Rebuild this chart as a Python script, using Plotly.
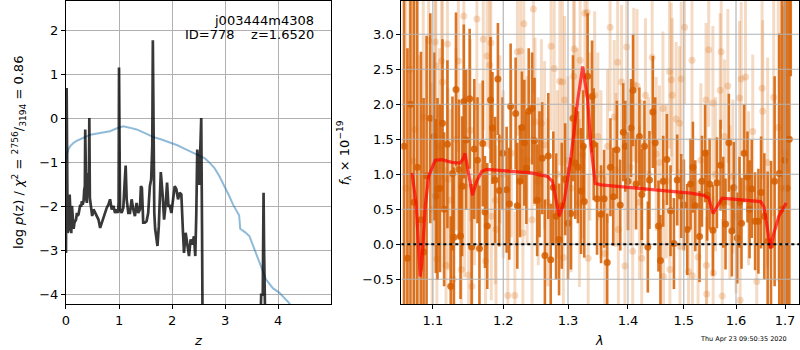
import plotly.graph_objects as go

# ---------------- Left panel: p(z) ----------------
pz_z = [0.000, 0.0125, 0.031, 0.05, 0.069, 0.085, 0.1, 0.1125, 0.128, 0.144, 0.16, 0.175, 0.19,
        0.206, 0.22, 0.2375, 0.255, 0.269, 0.285, 0.3, 0.315, 0.331, 0.345, 0.356, 0.3625, 0.37, 0.383,
        0.394, 0.4125, 0.431, 0.44, 0.45, 0.469, 0.494, 0.519, 0.55, 0.581, 0.6125, 0.644, 0.675,
        0.706, 0.7375, 0.769, 0.8, 0.831, 0.8625, 0.894, 0.925, 0.956, 0.981, 0.992, 1.0, 1.01,
        1.019, 1.05, 1.081, 1.106, 1.125, 1.144, 1.175, 1.206, 1.2375, 1.269, 1.3, 1.331,
        1.3625, 1.394, 1.4125, 1.431, 1.456, 1.4875, 1.519, 1.55, 1.581, 1.606, 1.627, 1.6375,
        1.648, 1.665, 1.681, 1.706, 1.725, 1.75, 1.7875, 1.819, 1.85, 1.881, 1.906, 1.931, 1.956,
        1.9875, 2.019, 2.05, 2.081, 2.1125, 2.144, 2.175, 2.206, 2.225, 2.256, 2.2875, 2.319,
        2.35, 2.381, 2.4125, 2.4375, 2.456, 2.475, 2.5125, 2.54, 2.55, 2.565, 2.59, 3.60, 3.66,
        3.68, 3.71, 3.725, 3.735, 3.76, 3.80]
pz_logp = [-3.05, 0.70, -2.59, -2.52, -1.72, -2.44, -2.60, -1.98, -2.40, -2.50, -2.36, -2.30, -2.29,
           -2.14, -2.20, -2.17, -2.05, -1.95, -2.00, -1.87, -1.95, -1.87, -1.60, -1.53, -0.24, -1.60, -1.83,
           -1.91, -1.23, -1.60, 0.02, -1.80, -2.06, -2.21, -2.06, -2.14, -2.21, -2.29, -2.48, -2.36,
           -2.21, -2.10, -2.02, -1.95, -1.83, -2.06, -1.98, -2.14, -2.06, -2.14, -1.90, 1.17, -1.90,
           -2.06, -2.14, -2.02, -1.45, -1.06, -1.83, -2.14, -2.14, -1.83, -2.06, -2.21, -1.91,
           -2.14, -2.06, -1.53, -1.57, -2.36, -2.36, -2.33, -2.14, -1.53, -1.38, -0.60, 1.79,
           -0.90, -2.14, -2.50, -2.74, -2.89, -2.44, -1.21, -1.68, -2.29, -1.91, -1.45, -1.98, -1.98,
           -2.14, -1.83, -1.53, -1.60, -1.83, -1.68, -1.72, -2.59, -3.05, -2.59, -2.89, -3.12,
           -2.74, -2.86, -2.67, -3.12, -2.21, -0.70, -1.50, -0.60, 0.02, -2.50, -8.0, -8.0, -4.5,
           -4.0, -4.0, -1.68, -3.0, -8.0, -8.0]

prior_z = [0.0, 0.02, 0.05, 0.08, 0.14, 0.2, 0.33, 0.46, 0.64, 0.83, 0.95, 1.08, 1.2, 1.33, 1.5,
           1.64, 1.8, 1.96, 2.1, 2.27, 2.4, 2.52, 2.62, 2.71, 2.8, 2.89, 3.0, 3.08, 3.15, 3.21,
           3.265, 3.285, 3.38, 3.46, 3.55, 3.64, 3.77, 3.9, 4.02, 4.2, 4.3]
prior_logp = [-1.0, -0.80, -0.68, -0.62, -0.55, -0.50, -0.43, -0.36, -0.32, -0.28, -0.22, -0.17,
              -0.20, -0.24, -0.33, -0.41, -0.47, -0.53, -0.60, -0.70, -0.77, -0.83, -0.90, -1.0,
              -1.12, -1.30, -1.55, -1.76, -1.95, -2.10, -2.20, -2.50, -2.58, -2.67, -2.95, -3.27,
              -3.65, -3.85, -3.95, -4.18, -4.35]

left_xticks = [0, 1, 2, 3, 4]
left_yticks = [-4, -3, -2, -1, 0, 1, 2]

# ---------------- Right panel: spectrum ----------------
dark_wave = [1.0615, 1.0660, 1.0700, 1.0745, 1.0790, 1.0839, 1.0875, 1.0915, 1.0965, 1.1018, 1.1040,
             1.1063, 1.1098, 1.1132, 1.1154, 1.1200, 1.1246, 1.1270, 1.1290, 1.1319, 1.1360, 1.1383,
             1.1405, 1.1429, 1.1462, 1.1512, 1.1540, 1.1578, 1.1624, 1.1652, 1.1700, 1.1732, 1.1765,
             1.1813, 1.1841, 1.1878, 1.1921, 1.1941, 1.1990, 1.2050, 1.2090, 1.2110, 1.2185, 1.2210,
             1.2250, 1.2280, 1.2317, 1.2348, 1.2384, 1.2436, 1.2473, 1.2514, 1.2550, 1.2592, 1.2634,
             1.2687, 1.2725, 1.2766, 1.2810, 1.2857, 1.2900, 1.2954, 1.3000, 1.3046, 1.3080, 1.3116,
             1.3160, 1.3210, 1.3248, 1.3264, 1.3319, 1.3392, 1.3419, 1.3475, 1.3542, 1.3594, 1.3645,
             1.3700, 1.3747, 1.3810, 1.3867, 1.3919, 1.3954, 1.4000, 1.4053, 1.4088, 1.4141, 1.4199,
             1.4242, 1.4288, 1.4348, 1.4377, 1.4437, 1.4479, 1.4538, 1.4574, 1.4623, 1.4690, 1.4756,
             1.4818, 1.4878, 1.4952, 1.5002, 1.5064, 1.5126, 1.5170, 1.5214, 1.5295, 1.5340, 1.5400,
             1.5440, 1.5486, 1.5549, 1.5626, 1.5697, 1.5750, 1.5794, 1.5859, 1.5918, 1.5957, 1.6024,
             1.6070, 1.6109, 1.6162, 1.6228, 1.6270, 1.6314, 1.6382, 1.6449, 1.6503, 1.6570, 1.6638,
             1.6707, 1.6782, 1.6879, 1.6930, 1.6990, 1.7040, 1.7090, 1.7120]
dark_flux = [1.40, -0.20, 2.00, 0.60, 1.10, 0.35, -0.11, 0.98, 1.80, 1.54, 0.69,
             0.79, 0.80, 1.73, 0.50, 1.43, -0.60, 1.01, 0.10, 2.21, 1.07, 0.12,
             0.83, 2.04, 1.49, 2.08, -0.04, 1.36, 1.20, -0.06, 1.44, 0.46, 0.26,
             2.06, 1.66, 0.92, 2.36, 0.77, 1.30, 0.78, 0.58, 1.97, 1.87, 0.55,
             0.90, 1.67, 1.45, 1.09, 1.90, 1.94, 1.48, 0.63, 1.00, 1.23, -0.16,
             1.26, -0.22, 0.81, 0.40, 0.07, 0.55, 0.93, 0.30, 0.44, 1.80, 1.16,
             1.10, 0.76, 1.40, 0.61, 2.40, 2.11, 1.43, 0.65, 0.43, 0.65, -0.26,
             1.10, 0.68, 1.35, 0.56, 1.60, 1.40, 0.90, 1.66, 2.20, 0.86, 1.54,
             0.71, 1.40, -0.04, 0.92, 1.89, 1.45, 0.26, -0.23, 0.90, 1.21, 0.48,
             0.01, 0.92, 0.69, 0.56, 0.21, 0.86, 1.10, 0.55, 0.11, 0.90, 1.30,
             0.70, 0.86, 0.20, 0.88, 1.13, 0.60, 0.29, 1.45, 0.19, 0.81, 0.09,
             0.60, 0.30, 1.30, 0.96, 0.50, 0.79, 0.33, 0.33, 0.74, 0.40, 0.04,
             -0.01, 0.90, 1.01, 0.50, 1.20, 0.80, 1.50, 3.70]
dark_err = [3.0, 3.0, 3.0, 3.0, 2.6, 2.4, 2.2, 2.0, 1.5, 1.2, 1.1,
            1.3, 1.2, 1.2, 1.1, 1.2, 1.0, 1.1, 1.0, 1.1, 1.0, 0.9,
            1.0, 1.1, 1.0, 1.0, 0.9, 1.0, 0.9, 0.9, 0.9, 0.8, 0.9,
            0.9, 0.8, 0.9, 0.8, 0.8, 0.8, 0.9, 0.8, 0.9, 0.8, 0.9,
            0.8, 0.8, 0.9, 0.8, 0.9, 0.8, 0.9, 0.8, 0.9, 0.8, 0.8,
            0.9, 0.8, 0.8, 0.9, 0.8, 0.9, 0.8, 0.8, 0.8, 0.9, 0.8,
            0.8, 0.9, 0.8, 0.8, 0.9, 0.8, 0.8, 0.8, 0.7, 0.7, 0.7,
            0.7, 0.7, 0.7, 0.65, 0.7, 0.65, 0.7, 0.7, 0.8, 0.65, 0.7,
            0.65, 0.65, 0.65, 0.7, 0.8, 0.65, 0.65, 0.65, 0.65, 0.65, 0.65,
            0.65, 0.65, 0.6, 0.65, 0.65, 0.65, 0.65, 0.65, 0.65, 0.65, 0.7,
            0.65, 0.65, 0.65, 0.65, 0.65, 0.65, 0.65, 0.7, 0.65, 0.65, 0.65,
            0.65, 0.65, 0.7, 0.65, 0.7, 0.7, 0.7, 0.75, 0.8, 0.9, 1.0,
            1.2, 1.5, 2.0, 3.0, 3.0, 3.0, 3.0, 1.3]

light_wave = [1.0640, 1.0690, 1.0738, 1.0760, 1.0810, 1.0871, 1.0943, 1.0990, 1.1032, 1.1041,
              1.1055, 1.1090, 1.1119, 1.1132, 1.1180, 1.1200, 1.1209, 1.1246, 1.1278, 1.1320,
              1.1352, 1.1393, 1.1429, 1.1440, 1.1498, 1.1522, 1.1545, 1.1580, 1.1615, 1.1660,
              1.1707, 1.1740, 1.1763, 1.1800, 1.1818, 1.1824, 1.1884, 1.1894, 1.1950, 1.2000,
              1.2068, 1.2120, 1.2173, 1.2212, 1.2260, 1.2295, 1.2309, 1.2360, 1.2435, 1.2456,
              1.2480, 1.2530, 1.2580, 1.2629, 1.2680, 1.2731, 1.2781, 1.2830, 1.2869, 1.2910,
              1.2925, 1.2946, 1.3000, 1.3050, 1.3091, 1.3102, 1.3150, 1.3185, 1.3196, 1.3238,
              1.3275, 1.3312, 1.3328, 1.3355, 1.3435, 1.3488, 1.3540, 1.3606, 1.3650, 1.3694,
              1.3764, 1.3793, 1.3822, 1.3835, 1.3890, 1.3948, 1.3978, 1.4040, 1.4082, 1.4100,
              1.4158, 1.4200, 1.4230, 1.4240, 1.4306, 1.4360, 1.4425, 1.4497, 1.4556, 1.4618,
              1.4628, 1.4680, 1.4738, 1.4745, 1.4769, 1.4787, 1.4859, 1.4921, 1.4930, 1.4952,
              1.5014, 1.5088, 1.5153, 1.5160, 1.5267, 1.5320, 1.5418, 1.5425, 1.5430, 1.5469,
              1.5549, 1.5555, 1.5600, 1.5690, 1.5710, 1.5730, 1.5775, 1.5839, 1.5880, 1.5937,
              1.6000, 1.6069, 1.6082, 1.6103, 1.6189, 1.6250, 1.6334, 1.6415, 1.6524, 1.6537,
              1.6638, 1.6762, 1.6859, 1.6950, 1.7020]
light_flux = [0.80, 2.50, 1.19, 1.64, 0.30, 1.82, 2.91, 0.50, 2.89, 2.55,
              -0.21, 1.40, 2.62, 2.32, -0.30, 2.86, 0.93, 0.63, -0.50, 1.50,
              2.62, -0.36, 3.26, 0.83, -0.44, 1.63, -0.60, 0.90, 3.22, 1.10,
              2.93, -0.24, 2.69, 2.56, 2.88, 0.40, 0.63, 0.21, 1.50, 1.00,
              -0.73, 1.30, -0.73, 2.75, 2.76, 0.16, 3.15, 1.20, 0.35, 3.36,
              1.75, 0.90, 1.73, 1.42, 0.60, 2.83, 2.51, 1.00, 2.33, 2.32,
              -0.19, 2.06, 1.20, 0.80, 2.40, 2.79, 1.60, 0.59, 2.63, 1.28,
              3.30, 3.31, -0.20, 1.54, 2.13, 1.54, 1.00, -0.13, 1.40, 3.10,
              1.82, 1.06, 2.60, 0.21, 2.32, -0.31, 2.82, 1.10, -0.10, 2.28,
              2.26, 0.60, 0.97, -0.20, 2.13, 1.00, 2.67, 1.29, 1.17, 1.94,
              -0.46, 0.90, 2.47, -0.36, 2.35, 2.13, 1.79, 1.73, -0.03, 2.36,
              3.10, -0.39, 2.63, -0.45, -0.18, 1.20, 2.06, -0.30, -0.71, 2.78,
              2.02, -0.41, 1.00, 2.20, 2.75, -0.74, 1.54, 2.26, 0.60, 0.97,
              0.40, 2.09, -0.80, 2.36, 2.39, 0.80, 1.61, -0.53, 2.23, 1.90,
              1.17, 2.10, 1.67, 0.80, 1.30]
light_err = [3.0, 3.0, 2.5, 2.5, 2.4, 2.2, 2.0, 1.8, 1.5, 1.4,
             1.4, 1.4, 1.4, 1.4, 1.4, 1.4, 1.3, 1.3, 1.3, 1.3,
             1.3, 1.3, 1.4, 1.3, 1.3, 1.3, 1.3, 1.2, 1.3, 1.2,
             1.3, 1.2, 1.3, 1.2, 1.3, 1.2, 1.2, 1.2, 1.2, 1.2,
             1.2, 1.2, 1.2, 1.2, 1.2, 1.2, 1.2, 1.2, 1.2, 1.2,
             1.2, 1.2, 1.2, 1.2, 1.2, 1.2, 1.2, 1.2, 1.2, 1.2,
             1.2, 1.2, 1.2, 1.2, 1.2, 1.2, 1.2, 1.2, 1.2, 1.2,
             1.2, 1.2, 1.2, 1.2, 1.2, 1.2, 1.2, 1.1, 1.1, 1.2,
             1.1, 1.1, 1.1, 1.1, 1.1, 1.1, 1.1, 1.1, 1.1, 1.1,
             1.1, 1.1, 1.1, 1.1, 1.1, 1.1, 1.1, 1.1, 1.1, 1.1,
             1.1, 1.1, 1.1, 1.1, 1.1, 1.1, 1.1, 1.1, 1.1, 1.1,
             1.1, 1.1, 1.1, 1.1, 1.1, 1.1, 1.1, 1.1, 1.1, 1.1,
             1.1, 1.1, 1.1, 1.1, 1.1, 1.1, 1.1, 1.1, 1.1, 1.1,
             1.1, 1.1, 1.1, 1.1, 1.1, 1.1, 1.1, 1.2, 1.3, 1.3,
             1.5, 1.7, 2.2, 2.6, 3.0]

model_wave = [1.0719, 1.0772, 1.0798, 1.0829, 1.0852, 1.0897, 1.0943, 1.1032, 1.1123, 1.1261,
              1.1376, 1.1424, 1.1446, 1.1494, 1.1551, 1.1612, 1.1684, 1.1756, 1.2023, 1.2424,
              1.2673, 1.2751, 1.2861, 1.2941, 1.3049, 1.3157, 1.3238, 1.3320, 1.3374, 1.3445,
              1.3539, 1.4048, 1.4636, 1.5125, 1.5374, 1.5469, 1.5553, 1.5630, 1.5726, 1.5888,
              1.6222, 1.6493, 1.6560, 1.6630, 1.6698, 1.6767, 1.6870, 1.7023]
model_flux = [1.02, 0.61, 0.16, -0.46, -0.27, 0.54, 0.97, 1.20, 1.21, 1.17,
              1.16, 1.23, 1.30, 1.01, 0.70, 0.90, 1.04, 1.07, 1.05, 1.02,
              0.97, 0.90, 0.40, 0.63, 1.25, 2.06, 2.54, 2.06, 1.40, 0.87,
              0.85, 0.81, 0.77, 0.73, 0.70, 0.66, 0.44, 0.54, 0.66, 0.65,
              0.63, 0.61, 0.54, 0.25, -0.06, 0.16, 0.40, 0.59]

right_xticks = [1.1, 1.2, 1.3, 1.4, 1.5, 1.6, 1.7]
right_xticktext = ["1.1", "1.2", "1.3", "1.4", "1.5", "1.6", "1.7"]
right_yticks = [-0.5, 0.0, 0.5, 1.0, 1.5, 2.0, 2.5, 3.0]

# ranges
left_xrange = [0, 4.99]
left_yrange = [-4.21, 2.68]
right_xrange_log = [0.02446, 0.23809]
right_xrange = [10 ** right_xrange_log[0], 10 ** right_xrange_log[1]]
right_yrange = [-0.853, 3.476]

W, H = 800, 350
FONT = "DejaVu Sans"
GRID = "#b0b0b0"
ORANGE_DARK = "rgba(213,94,0,0.85)"
ORANGE_LIGHT = "rgba(220,110,20,0.25)"

fig = go.Figure()

# Left panel traces
fig.add_trace(go.Scatter(x=prior_z, y=prior_logp, mode="lines",
                         line=dict(color="rgba(31,119,180,0.5)", width=2),
                         xaxis="x", yaxis="y", showlegend=False, hoverinfo="skip"))
fig.add_trace(go.Scatter(x=pz_z, y=pz_logp, mode="lines",
                         line=dict(color="rgba(0,0,0,0.78)", width=2.7),
                         xaxis="x", yaxis="y", showlegend=False, hoverinfo="skip"))

# Right panel: light (second beam) then dark spectrum
fig.add_trace(go.Scatter(x=light_wave, y=light_flux, mode="markers",
                         marker=dict(color=ORANGE_LIGHT, size=7, line=dict(width=0)),
                         error_y=dict(type="data", array=light_err, color=ORANGE_LIGHT,
                                      thickness=3, width=0),
                         xaxis="x2", yaxis="y2", showlegend=False, hoverinfo="skip"))
fig.add_trace(go.Scatter(x=dark_wave, y=dark_flux, mode="markers",
                         marker=dict(color=ORANGE_DARK, size=7, line=dict(width=0)),
                         error_y=dict(type="data", array=dark_err, color=ORANGE_DARK,
                                      thickness=2.6, width=0),
                         xaxis="x2", yaxis="y2", showlegend=False, hoverinfo="skip"))

# Right panel grid (drawn above the error bars, as in the reference)
gx, gy = [], []
for t in right_xticks:
    gx += [t, t, None]
    gy += [right_yrange[0], right_yrange[1], None]
for t in right_yticks:
    gx += [right_xrange[0], right_xrange[1], None]
    gy += [t, t, None]
fig.add_trace(go.Scatter(x=gx, y=gy, mode="lines", line=dict(color=GRID, width=1.1),
                         xaxis="x2", yaxis="y2", showlegend=False, hoverinfo="skip"))

fig.add_trace(go.Scatter(x=model_wave, y=model_flux, mode="lines",
                         line=dict(color="rgba(255,0,0,0.7)", width=3.2),
                         xaxis="x2", yaxis="y2", showlegend=False, hoverinfo="skip"))
fig.add_trace(go.Scatter(x=right_xrange, y=[0, 0], mode="lines",
                         line=dict(color="black", width=2, dash="dot"),
                         xaxis="x2", yaxis="y2", showlegend=False, hoverinfo="skip"))

px_x = lambda p: p / W
px_y = lambda p: 1 - p / H

ydom = [px_y(304), px_y(1)]
axis_common = dict(showline=True, linecolor="black", linewidth=1, mirror=True,
                   ticks="outside", ticklen=4, tickcolor="black", tickwidth=1,
                   tickfont=dict(family=FONT, size=13, color="black"),
                   zeroline=False)

fig.update_layout(
    width=W, height=H, margin=dict(l=0, r=0, t=0, b=0),
    paper_bgcolor="white", plot_bgcolor="white",
    font=dict(family=FONT, size=13, color="black"),
    xaxis=dict(domain=[px_x(62.3), px_x(328.3)], range=left_xrange, tickvals=left_xticks,
               showgrid=True, gridcolor=GRID, gridwidth=1.1, anchor="y", **axis_common),
    yaxis=dict(domain=ydom, range=left_yrange, tickvals=left_yticks,
               showgrid=True, gridcolor=GRID, gridwidth=1.1, anchor="x", **axis_common),
    xaxis2=dict(domain=[px_x(399.3), px_x(799.3)], type="log", range=right_xrange_log,
                tickvals=right_xticks, ticktext=right_xticktext, showgrid=False,
                anchor="y2", **axis_common),
    yaxis2=dict(domain=ydom, range=right_yrange, tickvals=right_yticks, tickformat=".1f",
                showgrid=False, anchor="x2", **axis_common),
)

ann = []
ann.append(dict(text="j003444m4308", x=px_x(313.5), y=px_y(20), xref="paper", yref="paper",
                xanchor="right", yanchor="middle", showarrow=False,
                font=dict(family=FONT, size=13, color="black")))
ann.append(dict(text="ID=778\u00a0\u00a0\u00a0\u00a0z=1.6520", x=px_x(313.5), y=px_y(35),
                xref="paper", yref="paper", xanchor="right", yanchor="middle", showarrow=False,
                font=dict(family=FONT, size=13, color="black")))
ann.append(dict(text="log <i>p</i>(z) / <i>χ</i><sup>2</sup> = <sup>2756</sup>/<sub>3194</sub> = 0.86",
                x=px_x(15), y=px_y(152), xref="paper", yref="paper", textangle=-90,
                xanchor="center", yanchor="middle", showarrow=False,
                font=dict(family=FONT, size=13, color="black")))
ann.append(dict(text="<i>f</i><sub>λ</sub> × 10<sup>−19</sup>",
                x=px_x(342), y=px_y(153), xref="paper", yref="paper", textangle=-90,
                xanchor="center", yanchor="middle", showarrow=False,
                font=dict(family=FONT, size=13, color="black")))
ann.append(dict(text="<i>z</i>", x=px_x(195), y=px_y(340), xref="paper", yref="paper",
                xanchor="center", yanchor="middle", showarrow=False,
                font=dict(family=FONT, size=13, color="black")))
ann.append(dict(text="<i>λ</i>", x=px_x(598), y=px_y(340), xref="paper", yref="paper",
                xanchor="center", yanchor="middle", showarrow=False,
                font=dict(family=FONT, size=13, color="black")))
ann.append(dict(text="Thu Apr 23 09:50:35 2020", x=px_x(743), y=px_y(339), xref="paper",
                yref="paper", xanchor="center", yanchor="middle", showarrow=False,
                font=dict(family=FONT, size=6.5, color="black")))
fig.update_layout(annotations=ann)

fig.write_html("out.html", config={"displayModeBar": False},
               post_script="document.body.style.margin='0';document.body.style.overflow='hidden';")
